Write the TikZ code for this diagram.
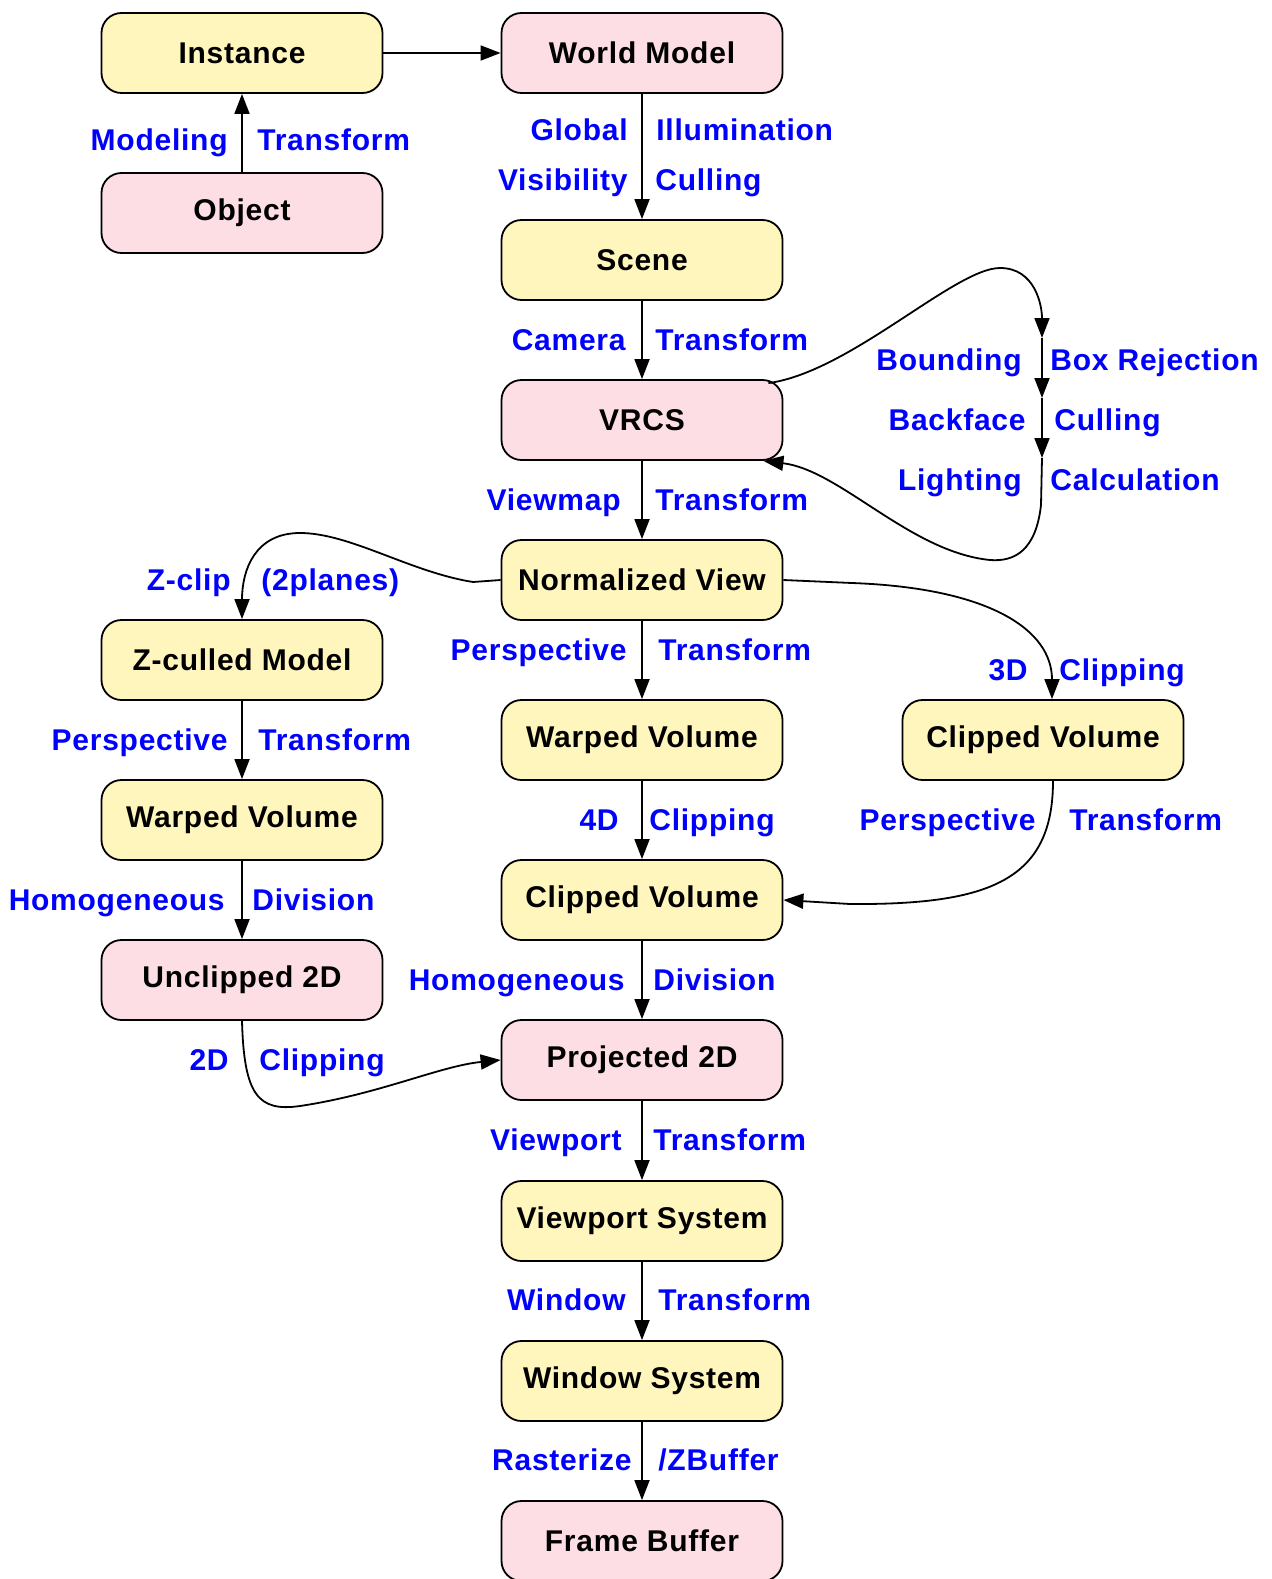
\documentclass[tikz,border=0pt]{standalone}
\usepackage{fontspec}
\setmainfont{Liberation Sans}[LetterSpace=2.5]
\usetikzlibrary{arrows.meta,calc}
\definecolor{boxyellow}{RGB}{255,246,189}
\definecolor{boxpink}{RGB}{252,222,228}
\definecolor{lblue}{RGB}{0,0,255}
\begin{document}
\begin{tikzpicture}[x=0.5pt,y=-0.5pt,
 box/.style={draw=black, line width=0.9pt, rounded corners=10pt, minimum width=140.5pt, minimum height=40pt, inner sep=0pt, font=\fontsize{15}{18}\selectfont\bfseries},
 ybox/.style={box, fill=boxyellow},
 pbox/.style={box, fill=boxpink},
 wire/.style={line width=0.9pt},
 conn/.style={wire, -{Triangle[length=10pt,width=7.5pt]}},
 lbl/.style={text=lblue, font=\fontsize{15}{18}\selectfont\bfseries, inner sep=0pt},
 ll/.style={lbl, anchor=mid east, yshift=-2.5pt},
 rl/.style={lbl, anchor=mid west, yshift=-2.5pt}]
\useasboundingbox (0,0) rectangle (1271,1579);

% nodes
\node[ybox] (inst) at (242,53) {Instance};
\node[pbox] (obj) at (242,213) {Object};
\node[pbox] (wm) at (642,53) {World Model};
\node[ybox] (scene) at (642,260) {Scene};
\node[pbox] (vrcs) at (642,420) {VRCS};
\node[ybox] (nv) at (642,580) {Normalized View};
\node[ybox] (zc) at (242,660) {Z-culled Model};
\node[ybox] (wv2) at (642,740) {Warped Volume};
\node[ybox] (cv3) at (1043,740) {Clipped Volume};
\node[ybox] (wv1) at (242,820) {Warped Volume};
\node[ybox] (cv2) at (642,900) {Clipped Volume};
\node[pbox] (u2d) at (242,980) {Unclipped 2D};
\node[pbox] (p2d) at (642,1060) {Projected 2D};
\node[ybox] (vps) at (642,1221) {Viewport System};
\node[ybox] (ws) at (642,1381) {Window System};
\node[pbox] (fb) at (642,1541) {Frame Buffer};

% straight connectors
\draw[conn] (inst.east) -- (wm.west);
\draw[conn] (obj.north) -- (inst.south);
\draw[conn] (wm.south) -- (scene.north);
\draw[conn] (scene.south) -- (vrcs.north);
\draw[conn] (vrcs.south) -- (nv.north);
\draw[conn] (nv.south) -- (wv2.north);
\draw[conn] (wv2.south) -- (cv2.north);
\draw[conn] (cv2.south) -- (p2d.north);
\draw[conn] (p2d.south) -- (vps.north);
\draw[conn] (vps.south) -- (ws.north);
\draw[conn] (ws.south) -- (fb.north);
\draw[conn] (zc.south) -- (wv1.north);
\draw[conn] (wv1.south) -- (u2d.north);

% curved connectors
\draw[conn] (nv.west) -- (473,582) .. controls (410,572) and (350,533) .. (300,533) .. controls (255,533) and (242,570) .. (zc.north);
\draw[conn] (nv.east) -- (852,583) .. controls (990,588) and (1052,630) .. ($(cv3.north)+(9,0)$);
\draw[conn] ($(cv3.south)+(10,0)$) .. controls (1053,880) and (990,905) .. (850,904) -- (cv2.east);
\draw[conn] (u2d.south) .. controls (244,1095) and (258,1112) .. (300,1106) .. controls (380,1094) and (440,1066) .. (p2d.west);

% VRCS loop
\coordinate (b1) at (1042,338);
\coordinate (b2) at (1042,398);
\coordinate (b3) at (1042,458);
\draw[conn] ($(vrcs.north east)+(-15,4)$) .. controls (850,372) and (955,268) .. (1000,268) .. controls (1035,268) and (1042,305) .. (b1);
\draw[conn] (b1) -- (b2);
\draw[conn] (b2) -- (b3);
\draw[conn] (b3) -- (1041,505) .. controls (1036,550) and (1015,562) .. (990,560) .. controls (910,552) and (840,470) .. ($(vrcs.south east)+(-20,0)$);

% labels
\node[ll] at (228,140) {Modeling};
\node[rl] at (257,140) {Transform};
\node[ll] at (628,130) {Global};
\node[rl] at (656,130) {Illumination};
\node[ll] at (628,180) {Visibility};
\node[rl] at (655,180) {Culling};
\node[ll] at (626,340) {Camera};
\node[rl] at (655,340) {Transform};
\node[ll] at (621,500) {Viewmap};
\node[rl] at (655,500) {Transform};
\node[ll] at (231,580) {Z-clip};
\node[rl] at (261,580) {(2planes)};
\node[ll] at (627,650) {Perspective};
\node[rl] at (658,650) {Transform};
\node[ll] at (228,740) {Perspective};
\node[rl] at (258,740) {Transform};
\node[ll] at (1028,670) {3D};
\node[rl] at (1059,670) {Clipping};
\node[ll] at (619,820) {4D};
\node[rl] at (649,820) {Clipping};
\node[ll] at (1036,820) {Perspective};
\node[rl] at (1069,820) {Transform};
\node[ll] at (225,900) {Homogeneous};
\node[rl] at (252,900) {Division};
\node[ll] at (625,980) {Homogeneous};
\node[rl] at (653,980) {Division};
\node[ll] at (229,1060) {2D};
\node[rl] at (259,1060) {Clipping};
\node[ll] at (622,1140) {Viewport};
\node[rl] at (653,1140) {Transform};
\node[ll] at (626,1300) {Window};
\node[rl] at (658,1300) {Transform};
\node[ll] at (632,1460) {Rasterize};
\node[rl] at (658,1460) {/ZBuffer};
\node[ll] at (1022,360) {Bounding};
\node[rl] at (1050,360) {Box Rejection};
\node[ll] at (1026,420) {Backface};
\node[rl] at (1054,420) {Culling};
\node[ll] at (1022,480) {Lighting};
\node[rl] at (1050,480) {Calculation};
\end{tikzpicture}
\end{document}
